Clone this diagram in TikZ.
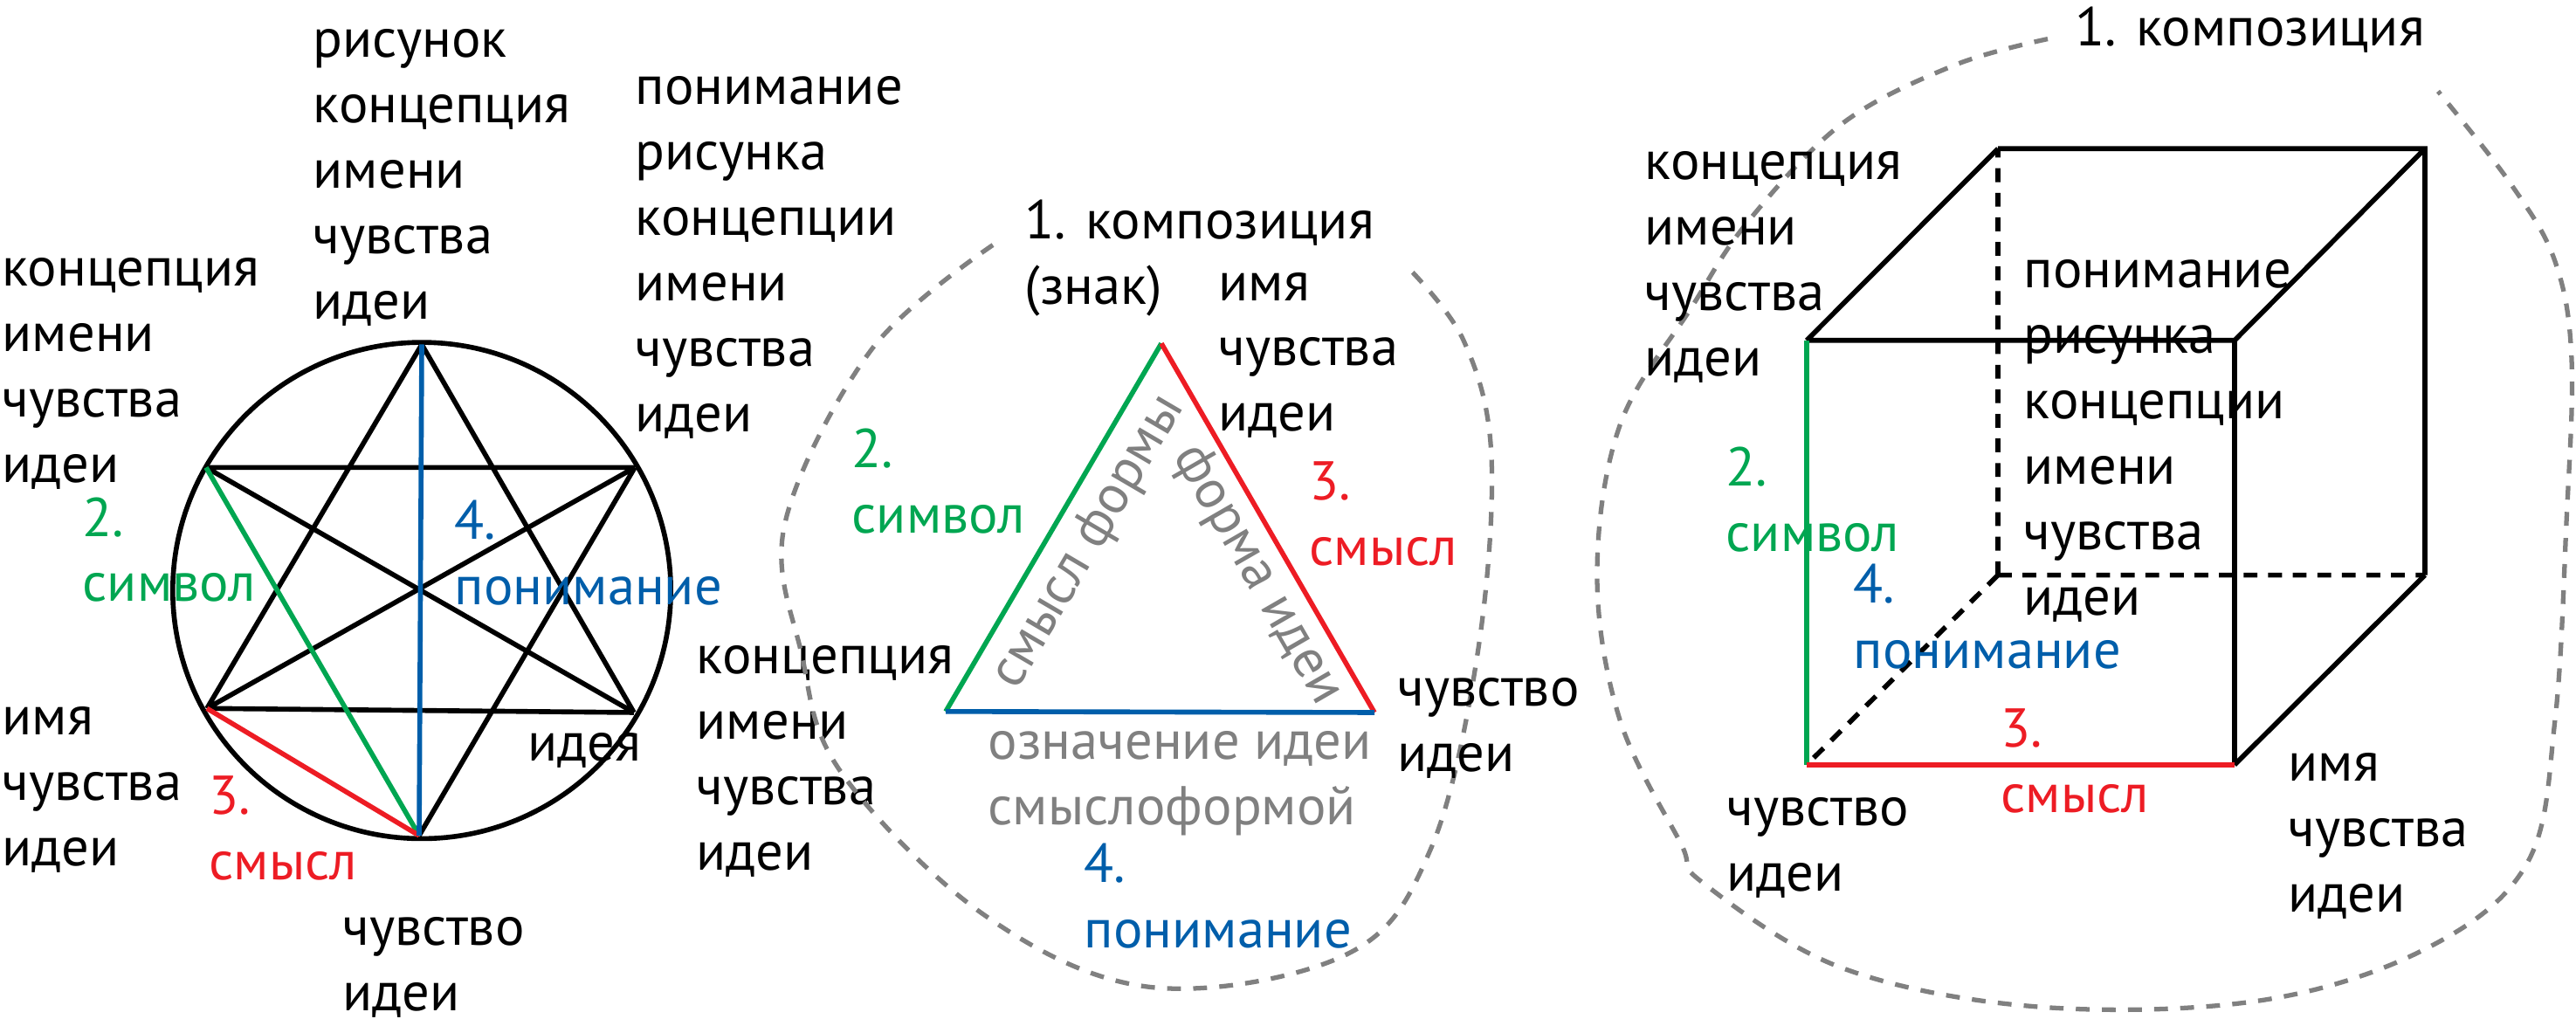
\documentclass[tikz,border=0pt]{standalone}
\usepackage{fontspec}
\setmainfont{PT Sans}
\newcommand\ml[1]{\vtop{\baselineskip=21.3pt\lineskiplimit=-20pt\halign{##\hfil\cr#1\crcr}}}
\begin{document}
\begin{tikzpicture}[x=0.01cm,y=-0.011737cm,
  txt/.style={anchor=base west,inner sep=0pt,font=\fontsize{17.8}{21.3}\selectfont},
  lin/.style={line width=1.6pt},
  dsh/.style={line width=1.6pt,dash pattern=on 4.5pt off 3.5pt},
  cur/.style={draw=gcol,line width=1.5pt,dash pattern=on 4.5pt off 4pt}]
\definecolor{gr}{RGB}{0,166,81}
\definecolor{rd}{RGB}{237,28,36}
\definecolor{bl}{RGB}{0,94,170}
\definecolor{gcol}{RGB}{128,128,128}
\useasboundingbox (0,0) rectangle (2950,1000.26);
% panel 1
\draw[lin] (483,576) ellipse [x radius=2.85cm,y radius=2.84cm];
\coordinate (T) at (483,336); \coordinate (B) at (480,815);
\coordinate (UL) at (236,456); \coordinate (UR) at (727,456);
\coordinate (LL) at (237,691); \coordinate (LR) at (726,695);
\draw[lin] (T)--(LL) (T)--(LR) (LL)--(LR) (UL)--(UR) (UR)--(B) (UL)--(LR) (UR)--(LL);
\draw[lin,gr] (UL)--(B);
\draw[lin,rd] (LL)--(B);
\draw[lin,bl] (T)--(B);
\node[txt] (a1) at (358,56) {\ml{рисунок\cr концепция\cr имени\cr чувства\cr идеи}};
\node[txt] (a2) at (727,102) {\ml{понимание\cr рисунка\cr концепции\cr имени\cr чувства\cr идеи}};
\node[txt] (a3) at (2,279) {\ml{концепция\cr имени\cr чувства\cr идеи}};
\node[txt,text=gr] (a4) at (94,523) {\ml{2.\cr символ}};
\node[txt,text=bl] (a5) at (520,526) {\ml{4.\cr понимание}};
\node[txt] (a6) at (2,717) {\ml{имя\cr чувства\cr идеи}};
\node[txt,text=rd] (a7) at (239,794) {\ml{3.\cr смысл}};
\node[txt] (a8) at (604,742) {идея};
\node[txt] (a9) at (797,657) {\ml{концепция\cr имени\cr чувства\cr идеи}};
\node[txt] (a10) at (392,922) {\ml{чувство\cr идеи}};
% panel 2
\draw[cur] plot[smooth,tension=0.6] coordinates {(1137,239) (998,341) (899,510) (918,638) (963,753) (1128,893) (1319,963) (1542,931) (1638,829) (1692,638) (1708,446) (1676,332) (1609,258)};
\coordinate (tT) at (1330,335); \coordinate (tL) at (1083,694); \coordinate (tR) at (1574,695);
\draw[lin,gr] (tL)--(tT);
\draw[lin,rd] (tT)--(tR);
\draw[lin,bl] (tL)--(tR);
\node[txt] (b1) at (1173,233) {\ml{1. композиция\cr (знак)}};
\node[txt] (b2) at (1395,293) {\ml{имя\cr чувства\cr идеи}};
\node[txt,text=gr] (b3) at (975,456) {\ml{2.\cr символ}};
\node[txt,text=rd] (b4) at (1499,488) {\ml{3.\cr смысл}};
\node[txt] (b5) at (1600,689) {\ml{чувство\cr идеи}};
\node[txt,text=gcol] (b6) at (1131,741) {\ml{означение идеи\cr смыслоформой}};
\node[txt,text=bl] (b7) at (1241,861) {\ml{4.\cr понимание}};
\node[inner sep=0pt,text=gcol,font=\fontsize{17.8}{21.3}\selectfont,rotate=59.6] (b8) at (1247,529) {смысл формы};
\node[inner sep=0pt,text=gcol,font=\fontsize{17.8}{21.3}\selectfont,rotate=-60] (b9) at (1440,561) {форма идеи};
% panel 3
\draw[cur] plot[smooth,tension=0.6] coordinates {(2345,38) (2237,64) (2109,121) (2001,217) (1937,300) (1855,415) (1829,561) (1855,702) (1925,823) (1950,861) (2109,944) (2333,982) (2588,976) (2779,925) (2894,842) (2926,702) (2939,510) (2945,351) (2926,255) (2875,179) (2792,89)};
\coordinate (fTL) at (2069,332); \coordinate (fTR) at (2559,332);
\coordinate (fBL) at (2069,746); \coordinate (fBR) at (2559,746);
\coordinate (kTL) at (2288,145); \coordinate (kTR) at (2777,145);
\coordinate (kBR) at (2777,561); \coordinate (kBL) at (2288,561);
\draw[lin] (fTL)--(fTR)--(fBR) (kTL)--(kTR)--(kBR) (fTL)--(kTL) (fTR)--(kTR) (fBR)--(kBR);
\draw[dsh] (kBL)--(kTL) (kBL)--(kBR) (kBL)--(fBL);
\draw[lin,gr] (fBL)--(fTL);
\draw[lin,rd] (fBL)--(fBR);
\node[txt] (c1) at (2376,45) {1. композиция};
\node[txt] (c2) at (1883,175) {\ml{концепция\cr имени\cr чувства\cr идеи}};
\node[txt] (c3) at (2317,281) {\ml{понимание\cr рисунка\cr концепции\cr имени\cr чувства\cr идеи}};
\node[txt,text=gr] (c4) at (1976,474) {\ml{2.\cr символ}};
\node[txt,text=bl] (c5) at (2122,588) {\ml{4.\cr понимание}};
\node[txt,text=rd] (c6) at (2291,729) {\ml{3.\cr смысл}};
\node[txt] (c7) at (1977,805) {\ml{чувство\cr идеи}};
\node[txt] (c8) at (2620,762) {\ml{имя\cr чувства\cr идеи}};
\end{tikzpicture}
\end{document}
